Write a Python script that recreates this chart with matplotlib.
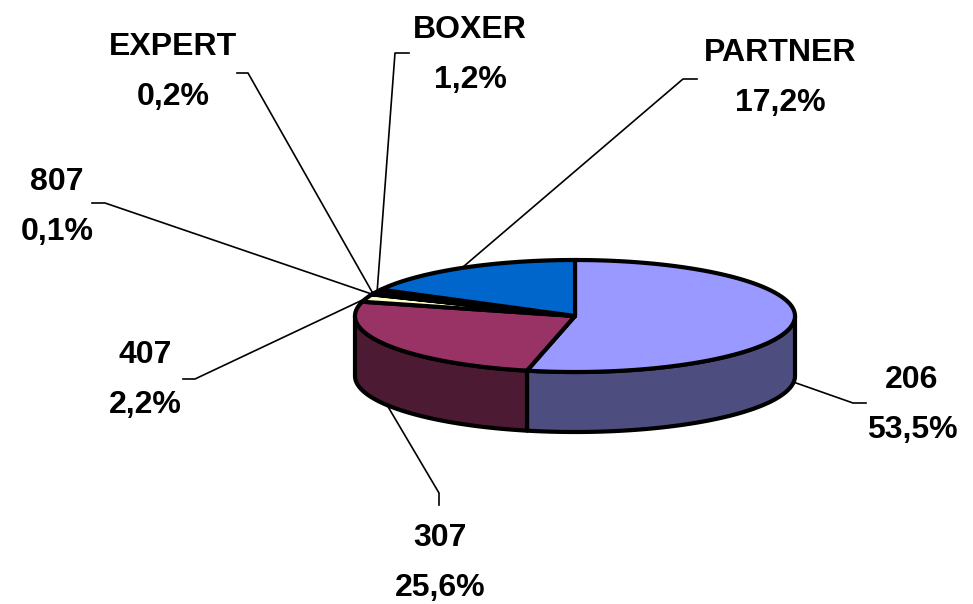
import numpy as np
import matplotlib
matplotlib.use("Agg")
import matplotlib.pyplot as plt
from matplotlib.patches import Polygon

# ---- data ----
categories = ["206", "307", "407", "807", "EXPERT", "BOXER", "PARTNER"]
shares = [53.5, 25.6, 2.2, 0.1, 0.2, 1.2, 17.2]
share_labels = ["53,5%", "25,6%", "2,2%", "0,1%", "0,2%", "1,2%", "17,2%"]
top_colors = ["#9999FF", "#993366", "#FFFFCC", "#CCFFFF", "#FF8080", "#660066", "#0066CC"]
side_colors = ["#4D4D80", "#4D1A33", "#80806A", "#668080", "#804040", "#330033", "#003366"]

# label positions (pixel centers of the two text lines) and leader elbows
label_pos = {"206": (912, 380), "307": (440, 538), "407": (145, 355), "807": (57, 182),
             "EXPERT": (173, 47), "BOXER": (470, 30), "PARTNER": (780, 53)}
elbow = {"206": ((853, 403), (866, 403)), "307": ((439, 493), (439, 505)),
         "407": ((195, 379), (183, 379)), "807": ((105, 203), (92, 203)),
         "EXPERT": ((248, 73), (237, 73)), "BOXER": ((395, 53), (409, 53)),
         "PARTNER": ((683, 79), (697, 79))}

W, H = 973, 604
fig = plt.figure(figsize=(W / 100, H / 100), dpi=100)
ax = fig.add_axes([0, 0, 1, 1])
ax.set_xlim(0, W)
ax.set_ylim(H, 0)
ax.axis("off")

cx, cy, rx, ry, depth = 575, 316, 220, 56, 60
EDGE = 3.0


def pt(t, dy=0.0):
    r = np.radians(t)
    return cx + rx * np.sin(r), cy - ry * np.cos(r) + dy


bounds = np.concatenate([[0], np.cumsum(shares) * 3.6])

# side faces (front half: 90..270 deg clockwise from top)
for i in range(len(shares)):
    a, b = max(bounds[i], 90), min(bounds[i + 1], 270)
    if b <= a:
        continue
    ts = np.linspace(a, b, 80)
    top = [pt(t) for t in ts]
    bot = [pt(t, depth) for t in ts[::-1]]
    ax.add_patch(Polygon(top + bot, closed=True, facecolor=side_colors[i],
                         edgecolor="black", lw=EDGE, joinstyle="round"))

# top faces
for i in range(len(shares)):
    a, b = bounds[i], bounds[i + 1]
    n = max(3, int((b - a) * 2))
    ts = np.linspace(a, b, n)
    poly = [(cx, cy)] + [pt(t) for t in ts]
    ax.add_patch(Polygon(poly, closed=True, facecolor=top_colors[i],
                         edgecolor="black", lw=EDGE, joinstyle="round"))

# labels and leader lines
for i, name in enumerate(categories):
    mid = (bounds[i] + bounds[i + 1]) / 2
    dy = depth if 90 < mid < 270 else 0
    ax_, ay_ = pt(mid, dy)
    (ex, ey), (hx, hy) = elbow[name]
    ax.plot([ax_, ex, hx], [ay_, ey, hy], color="black", lw=1.2, zorder=5)
    lx, ly = label_pos[name]
    kw = dict(ha="center", va="center", fontsize=23, fontweight="bold",
              family=["Liberation Sans", "DejaVu Sans"], color="black")
    ax.text(lx, ly, name, **kw)
    ax.text(lx, ly + 50, share_labels[i], **kw)

fig.savefig("out.png", dpi=100)
